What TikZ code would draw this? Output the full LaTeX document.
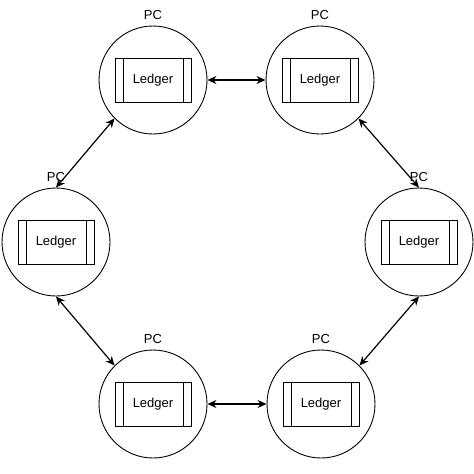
\documentclass[tikz,border=0pt]{standalone}
\usepackage{fontspec}
\setmainfont{Liberation Sans}
\usetikzlibrary{arrows.meta}

\tikzset{
  pc/.style={draw,circle,line width=0.9pt,minimum size=108pt,inner sep=0pt},
  ledger/.style={draw,line width=0.9pt,minimum width=76pt,minimum height=44pt,inner sep=0pt,
    path picture={
      \draw[line width=0.9pt] ([xshift=8pt]path picture bounding box.north west) -- ([xshift=8pt]path picture bounding box.south west);
      \draw[line width=0.9pt] ([xshift=-8pt]path picture bounding box.north east) -- ([xshift=-8pt]path picture bounding box.south east);
    }},
  link/.style={{Stealth[length=9pt,width=8pt]}-{Stealth[length=9pt,width=8pt]},line width=1.2pt}
}

\begin{document}
\begin{tikzpicture}[x=1pt,y=-1pt,font=\fontsize{13}{15}\selectfont]
  \useasboundingbox (0,0) rectangle (474,474);

  % the six PCs, each holding a ledger
  \foreach \name/\x/\y in {tl/153/80,tr/320/80,l/56/242,r/419/242,bl/153/404,br/321/404} {
    \node[pc,label={[name=pc\name,label distance=2pt]above:PC}] (\name) at (\x,\y) {};
    \node[ledger] (ledger\name) at (\x,\y) {Ledger};
  }

  % links round the ring
  \draw[link] (tl.east) -- (tr.west);
  \draw[link] (bl.east) -- (br.west);
  \draw[link] (l.north) -- (tl.225);
  \draw[link] (tr.-45) -- (r.north);
  \draw[link] (l.south) -- (bl.135);
  \draw[link] (r.south) -- (br.45);
\end{tikzpicture}
\end{document}
